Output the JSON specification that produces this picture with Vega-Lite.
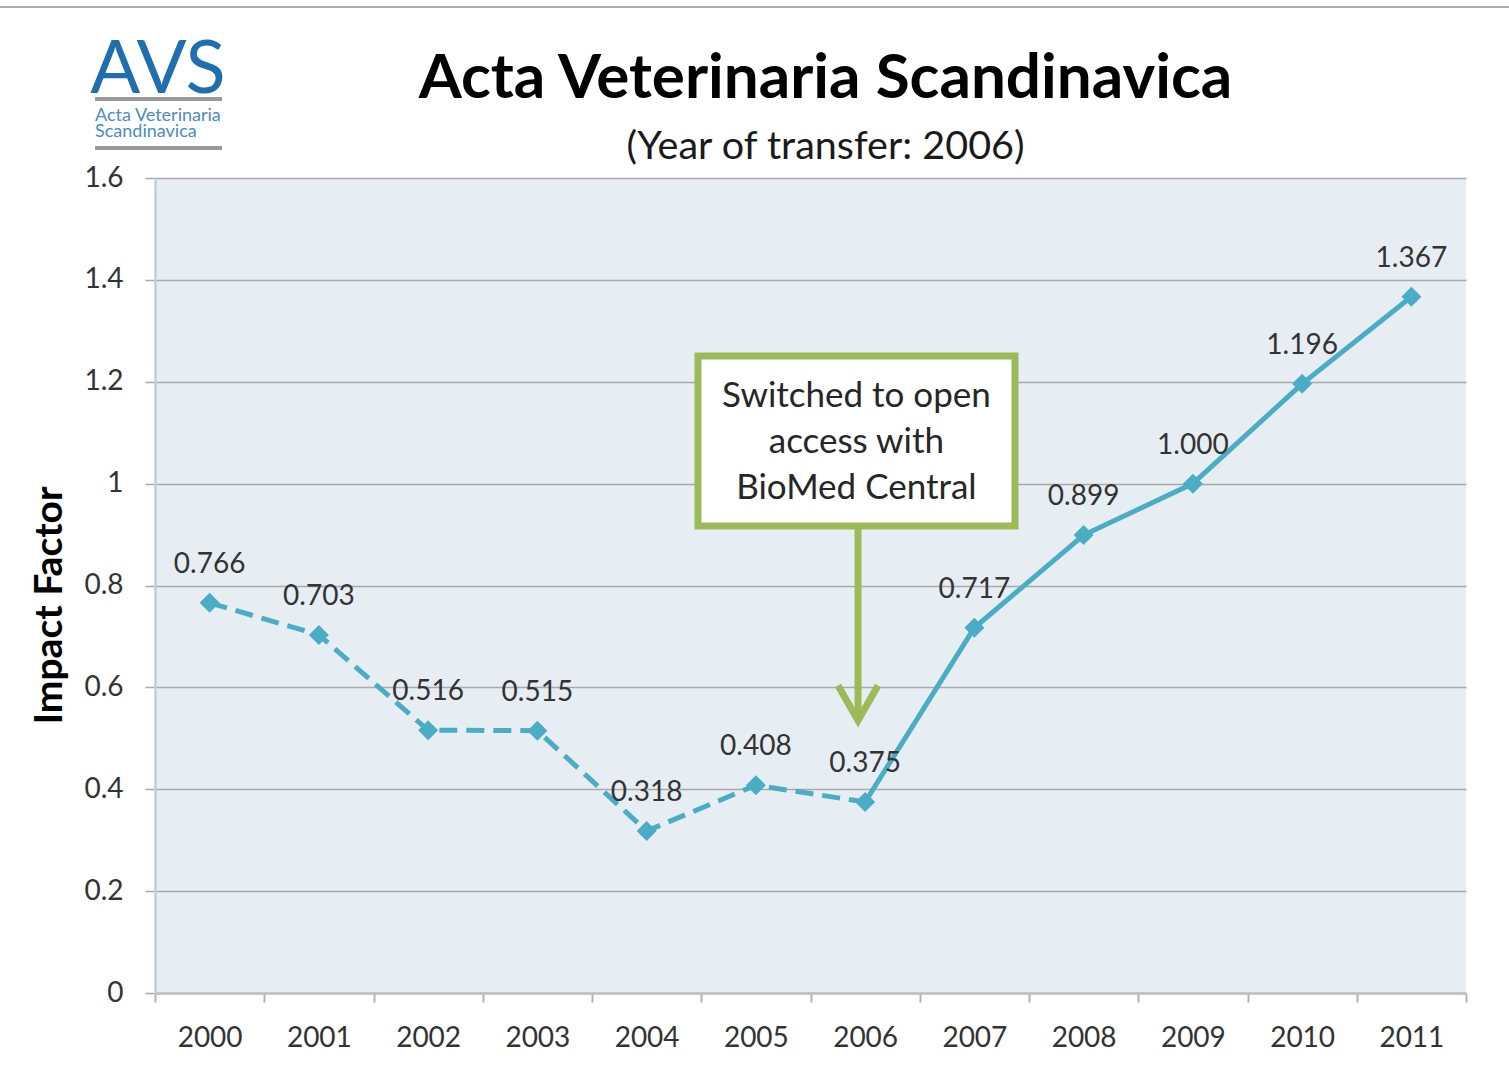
{
  "$schema": "https://vega.github.io/schema/vega-lite/v6.json",
  "width": 1311,
  "height": 815,
  "autosize": {"type": "none"},
  "padding": {"left": 155, "top": 178, "right": 43, "bottom": 85},
  "background": "white",
  "view": {"fill": "#e7eef3", "stroke": null},
  "config": {"font": "Lato"},
  "title": {
    "text": "Acta Veterinaria Scandinavica",
    "subtitle": "(Year of transfer: 2006)",
    "anchor": "middle",
    "frame": "group",
    "dx": 15,
    "offset": -161,
    "font": "Lato",
    "fontSize": 62,
    "fontWeight": "bold",
    "color": "#000000",
    "subtitleFont": "Lato",
    "subtitleFontSize": 39.5,
    "subtitleColor": "#1a1a1a",
    "subtitlePadding": 17
  },
  "data": {
    "values": [
      {"year": 2000, "value": 0.766},
      {"year": 2001, "value": 0.703},
      {"year": 2002, "value": 0.516},
      {"year": 2003, "value": 0.515},
      {"year": 2004, "value": 0.318},
      {"year": 2005, "value": 0.408},
      {"year": 2006, "value": 0.375},
      {"year": 2007, "value": 0.717},
      {"year": 2008, "value": 0.899},
      {"year": 2009, "value": 1.0},
      {"year": 2010, "value": 1.196},
      {"year": 2011, "value": 1.367}
    ]
  },
  "resolve": {"axis": {"x": "independent", "y": "independent"}},
  "layer": [
    {
      "transform": [{"filter": "datum.year <= 2006"}],
      "mark": {"type": "line", "color": "#4bacc6", "strokeWidth": 5, "strokeDash": [18, 9], "strokeCap": "butt"},
      "encoding": {
        "x": {
          "field": "year", "type": "quantitative",
          "scale": {"domain": [1999.5, 2011.5], "nice": false, "zero": false},
          "axis": {
            "orient": "bottom", "title": null,
            "values": [2000, 2001, 2002, 2003, 2004, 2005, 2006, 2007, 2008, 2009, 2010, 2011],
            "format": "d", "ticks": false, "domain": false, "grid": false,
            "labelFontSize": 28, "labelColor": "#333333", "labelPadding": 31, "labelFont": "Lato"
          }
        },
        "y": {
          "field": "value", "type": "quantitative",
          "scale": {"domain": [0, 1.6], "nice": false},
          "axis": {
            "orient": "left",
            "values": [0, 0.2, 0.4, 0.6, 0.8, 1.0, 1.2, 1.4, 1.6],
            "format": ".1~f",
            "grid": true, "gridColor": "#a9a9a9", "gridWidth": 1.5,
            "tickSize": 10, "tickColor": "#a9a9a9", "tickWidth": 1.5,
            "domain": true, "domainColor": "#c3ced6", "domainWidth": 2.5,
            "labelFontSize": 28, "labelColor": "#333333", "labelPadding": 22, "labelFont": "Lato",
            "title": "Impact Factor", "titleFontSize": 39, "titleFontWeight": "bold",
            "titleColor": "#000000", "titleFont": "Lato", "titlePadding": 14, "titleY": 427
          }
        }
      }
    },
    {
      "transform": [{"filter": "datum.year >= 2006"}],
      "mark": {"type": "line", "color": "#4bacc6", "strokeWidth": 5},
      "encoding": {
        "x": {
          "field": "year", "type": "quantitative",
          "axis": {
            "orient": "bottom", "title": null,
            "values": [1999.5, 2000.5, 2001.5, 2002.5, 2003.5, 2004.5, 2005.5, 2006.5, 2007.5, 2008.5, 2009.5, 2010.5, 2011.5],
            "labels": false, "ticks": true, "tickSize": 9, "tickColor": "#b3b3b3", "tickWidth": 2,
            "domain": true, "domainColor": "#b9c2c9", "domainWidth": 2.5, "grid": false
          }
        },
        "y": {"field": "value", "type": "quantitative", "axis": null}
      }
    },
    {
      "mark": {"type": "point", "shape": "diamond", "filled": true, "size": 400, "color": "#4bacc6", "opacity": 1},
      "encoding": {
        "x": {"field": "year", "type": "quantitative", "axis": null},
        "y": {"field": "value", "type": "quantitative", "axis": null}
      }
    },
    {
      "mark": {"type": "text", "dy": -38, "fontSize": 28, "color": "#333333", "font": "Lato"},
      "encoding": {
        "x": {"field": "year", "type": "quantitative", "axis": null},
        "y": {"field": "value", "type": "quantitative", "axis": null},
        "text": {"field": "value", "type": "quantitative", "format": ".3f"}
      }
    },
    {
      "data": {"values": [{}]},
      "mark": {"type": "rect", "fill": "#ffffff", "stroke": "#9bbb59", "strokeWidth": 7},
      "encoding": {
        "x": {"datum": 2004.47, "type": "quantitative", "axis": null},
        "x2": {"datum": 2007.372},
        "y": {"datum": 1.2505, "type": "quantitative", "axis": null},
        "y2": {"datum": 0.9168}
      }
    },
    {
      "data": {"values": [{}]},
      "mark": {"type": "text", "text": ["Switched to open", "access with", "BioMed Central"], "fontSize": 35, "lineHeight": 46, "align": "center", "baseline": "middle", "color": "#262626", "font": "Lato"},
      "encoding": {
        "x": {"datum": 2005.92, "type": "quantitative", "axis": null},
        "y": {"datum": 1.172, "type": "quantitative", "axis": null}
      }
    },
    {
      "data": {"values": [{}]},
      "mark": {"type": "rule", "color": "#9bbb59", "strokeWidth": 7},
      "encoding": {
        "x": {"datum": 2005.935, "type": "quantitative", "axis": null},
        "y": {"datum": 0.9168, "type": "quantitative", "axis": null},
        "y2": {"datum": 0.545}
      }
    },
    {
      "data": {"values": [{}]},
      "mark": {"type": "point", "shape": "M-1,-1.75L0,0L1,-1.75", "size": 1600, "filled": false, "stroke": "#9bbb59", "strokeWidth": 7, "strokeJoin": "miter", "strokeCap": "butt", "opacity": 1},
      "encoding": {
        "x": {"datum": 2005.935, "type": "quantitative", "axis": null},
        "y": {"datum": 0.535, "type": "quantitative", "axis": null}
      }
    },
    {
      "data": {"values": [{}]},
      "mark": {"type": "rule", "color": "#ababab", "strokeWidth": 2},
      "encoding": {
        "x": {"datum": 1998.081, "type": "quantitative", "axis": null},
        "x2": {"datum": 2011.894},
        "y": {"datum": 1.9357, "type": "quantitative", "axis": null}
      }
    },
    {
      "data": {"values": [{}]},
      "mark": {"type": "text", "text": "AVS", "fontSize": 74, "align": "center", "baseline": "alphabetic", "color": "#1f6fae", "font": "Lato"},
      "encoding": {
        "x": {"datum": 1999.527, "type": "quantitative", "axis": null},
        "y": {"datum": 1.7669, "type": "quantitative", "axis": null}
      }
    },
    {
      "data": {"values": [{}]},
      "mark": {"type": "rule", "color": "#9a9a9a", "strokeWidth": 4},
      "encoding": {
        "x": {"datum": 1998.951, "type": "quantitative", "axis": null},
        "x2": {"datum": 2000.113},
        "y": {"datum": 1.7551, "type": "quantitative", "axis": null}
      }
    },
    {
      "data": {"values": [{}]},
      "mark": {"type": "rule", "color": "#9a9a9a", "strokeWidth": 4},
      "encoding": {
        "x": {"datum": 1998.951, "type": "quantitative", "axis": null},
        "x2": {"datum": 2000.113},
        "y": {"datum": 1.6589, "type": "quantitative", "axis": null}
      }
    },
    {
      "data": {"values": [{}]},
      "mark": {"type": "text", "text": ["Acta Veterinaria", "Scandinavica"], "fontSize": 18, "lineHeight": 16, "align": "left", "baseline": "alphabetic", "color": "#4a8cc4", "font": "Lato"},
      "encoding": {
        "x": {"datum": 1998.951, "type": "quantitative", "axis": null},
        "y": {"datum": 1.7119, "type": "quantitative", "axis": null}
      }
    }
  ]
}
